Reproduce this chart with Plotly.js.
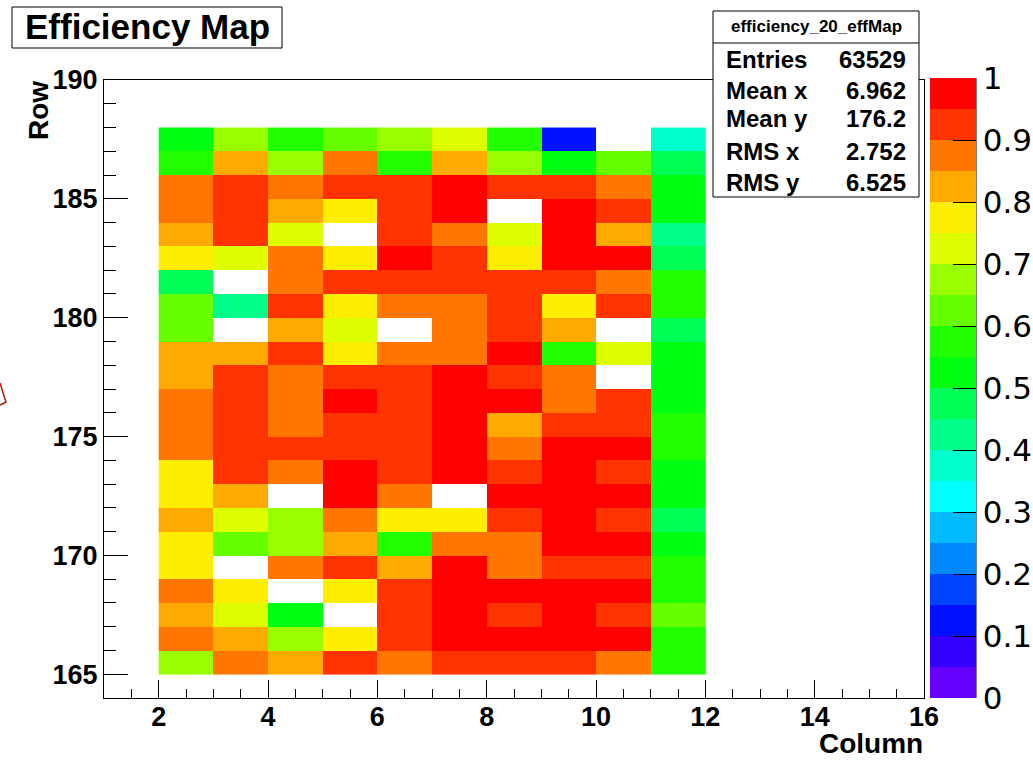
<!DOCTYPE html>
<html>
<head>
<meta charset="utf-8">
<script src="https://cdn.plot.ly/plotly-3.0.1.min.js"></script>
<style>
  html, body { margin: 0; padding: 0; background: #fff; }
  #chart { width: 1033px; height: 762px; }
</style>
</head>
<body>
<div id="chart"></div>
<script>
// ---------------- data ----------------
const chartTitle = "Efficiency Map";
const xTitle = "Column";
const yTitle = "Row";
const columnEdges = [2, 3, 4, 5, 6, 7, 8, 9, 10, 11, 12];
const rowEdges = [165, 166, 167, 168, 169, 170, 171, 172, 173, 174, 175, 176,
                  177, 178, 179, 180, 181, 182, 183, 184, 185, 186, 187, 188];
// efficiency per cell, rows from 165 (bottom) up to 187 (top), columns 2..11; null = empty
const efficiency = [
  [0.675, 0.875, 0.825, 0.925, 0.875, 0.925, 0.925, 0.925, 0.875, 0.575], // 165
  [0.875, 0.825, 0.675, 0.775, 0.925, 0.975, 0.975, 0.975, 0.975, 0.575], // 166
  [0.825, 0.725, 0.525, null,  0.925, 0.975, 0.925, 0.975, 0.925, 0.625], // 167
  [0.875, 0.775, null,  0.775, 0.925, 0.975, 0.975, 0.975, 0.975, 0.575], // 168
  [0.775, null,  0.875, 0.925, 0.825, 0.975, 0.875, 0.925, 0.925, 0.575], // 169
  [0.775, 0.625, 0.675, 0.825, 0.575, 0.875, 0.875, 0.975, 0.975, 0.525], // 170
  [0.825, 0.725, 0.675, 0.875, 0.775, 0.775, 0.925, 0.975, 0.925, 0.475], // 171
  [0.775, 0.825, null,  0.975, 0.875, null,  0.975, 0.975, 0.975, 0.525], // 172
  [0.775, 0.925, 0.875, 0.975, 0.925, 0.975, 0.925, 0.975, 0.925, 0.525], // 173
  [0.875, 0.925, 0.925, 0.925, 0.925, 0.975, 0.875, 0.975, 0.975, 0.575], // 174
  [0.875, 0.925, 0.875, 0.925, 0.925, 0.975, 0.825, 0.925, 0.925, 0.575], // 175
  [0.875, 0.925, 0.875, 0.975, 0.925, 0.975, 0.975, 0.875, 0.925, 0.525], // 176
  [0.825, 0.925, 0.875, 0.925, 0.925, 0.975, 0.925, 0.875, null,  0.525], // 177
  [0.825, 0.825, 0.925, 0.775, 0.875, 0.875, 0.975, 0.575, 0.725, 0.525], // 178
  [0.625, null,  0.825, 0.725, null,  0.875, 0.925, 0.825, null,  0.475], // 179
  [0.625, 0.425, 0.925, 0.775, 0.875, 0.875, 0.925, 0.775, 0.925, 0.575], // 180
  [0.475, null,  0.875, 0.925, 0.925, 0.925, 0.925, 0.925, 0.875, 0.575], // 181
  [0.775, 0.725, 0.875, 0.775, 0.975, 0.925, 0.775, 0.975, 0.975, 0.475], // 182
  [0.825, 0.925, 0.725, null,  0.925, 0.875, 0.725, 0.975, 0.825, 0.425], // 183
  [0.875, 0.925, 0.825, 0.775, 0.925, 0.975, null,  0.975, 0.925, 0.525], // 184
  [0.875, 0.925, 0.875, 0.925, 0.925, 0.975, 0.925, 0.925, 0.875, 0.525], // 185
  [0.575, 0.825, 0.675, 0.875, 0.575, 0.825, 0.675, 0.525, 0.625, 0.475], // 186
  [0.525, 0.675, 0.575, 0.625, 0.675, 0.725, 0.575, 0.125, null,  0.375]  // 187
];
const statsName = "efficiency_20_effMap";
const statLabels = ["Entries", "Mean x", "Mean y", "RMS x", "RMS y"];
const statValues = ["63529", "6.962", "176.2", "2.752", "6.525"];

// ---------------- style ----------------
const palette = ["#6600FF", "#3300FF", "#0011FF", "#0044FF", "#0088FF", "#00BBFF",
                 "#00FFFF", "#00FFCC", "#00FF88", "#00FF55", "#00FF11", "#22FF00",
                 "#66FF00", "#99FF00", "#DDFF00", "#FFEE00", "#FFAA00", "#FF7700",
                 "#FF3300", "#FF0000"];
const colorscale = [];
palette.forEach((c, i) => {
  colorscale.push([i / palette.length, c]);
  colorscale.push([(i + 1) / palette.length, c]);
});

const FONT = "Liberation Sans, Arial, Helvetica, sans-serif";
const WIDEFONT = "DejaVu Sans, Liberation Sans, sans-serif";
const W = 1033, H = 762;
const M = { l: 104, r: 109, t: 80, b: 64, autoexpand: false };
const PW = W - M.l - M.r, PH = H - M.t - M.b;
const px = v => (v - M.l) / PW;
const py = v => (H - M.b - v) / PH;

const trace = {
  type: "heatmap",
  x: columnEdges,
  y: rowEdges,
  z: efficiency,
  zmin: 0, zmax: 1,
  colorscale: colorscale,
  zsmooth: false,
  hoverongaps: false,
  colorbar: {
    x: px(930), xanchor: "left", xpad: 0,
    y: 0, yanchor: "bottom", ypad: 0,
    thickness: 46, thicknessmode: "pixels",
    len: 620, lenmode: "pixels",
    outlinewidth: 0,
    tick0: 0, dtick: 0.1,
    ticks: "inside", ticklen: 23, tickwidth: 1, tickcolor: "#000",
    tickfont: { family: WIDEFONT, size: 31, color: "#000" }
  }
};

const shapes = [
  // colorbar right edge
  { type: "line", xref: "paper", yref: "paper", x0: px(976), x1: px(976), y0: py(78), y1: py(698),
    line: { color: "#000", width: 1 } },
  // title box
  { type: "rect", xref: "paper", yref: "paper", x0: px(12), x1: px(282), y0: py(48), y1: py(7),
    fillcolor: "#fff", line: { color: "#000", width: 1 } },
  // stats box
  { type: "rect", xref: "paper", yref: "paper", x0: px(713), x1: px(919), y0: py(197), y1: py(11),
    fillcolor: "#fff", line: { color: "#000", width: 1 } },
  { type: "line", xref: "paper", yref: "paper", x0: px(713), x1: px(919), y0: py(43), y1: py(43),
    line: { color: "#000", width: 1 } },
  // partial marker at left edge
  { type: "path", xref: "paper", yref: "paper",
    path: `M ${px(0)} ${py(383)} L ${px(6)} ${py(402)} L ${px(0)} ${py(405)}`,
    line: { color: "#a81c08", width: 1.5 } }
];

const statY = [59, 90, 119, 152, 182];
const annotations = [
  { text: chartTitle, xref: "paper", yref: "paper", x: px(147), y: py(27), xanchor: "center", yanchor: "middle",
    showarrow: false, font: { family: FONT, size: 35, color: "#000", weight: 700 } },
  { text: statsName, xref: "paper", yref: "paper", x: px(816), y: py(27), xanchor: "center", yanchor: "middle",
    showarrow: false, font: { family: FONT, size: 17, color: "#000", weight: 700 } },
  { text: xTitle, xref: "paper", yref: "paper", x: px(925), y: py(761), xanchor: "right", yanchor: "bottom",
    showarrow: false, font: { family: FONT, size: 28, color: "#000", weight: 700 } },
  { text: yTitle, xref: "paper", yref: "paper", x: px(38), y: py(111), xanchor: "center", yanchor: "middle",
    textangle: -90, showarrow: false, font: { family: FONT, size: 28, color: "#000", weight: 700 } }
];
statLabels.forEach((lab, i) => {
  annotations.push({ text: lab, xref: "paper", yref: "paper", x: px(724), y: py(statY[i]),
    xanchor: "left", yanchor: "middle", showarrow: false,
    font: { family: FONT, size: 24, color: "#000", weight: 700 } });
  annotations.push({ text: statValues[i], xref: "paper", yref: "paper", x: px(908), y: py(statY[i]),
    xanchor: "right", yanchor: "middle", showarrow: false,
    font: { family: FONT, size: 24, color: "#000", weight: 700 } });
});

const axisCommon = {
  showgrid: false, zeroline: false,
  showline: true, linecolor: "#000", linewidth: 1, mirror: true,
  ticks: "inside", tickcolor: "#000", tickwidth: 1,
  tickfont: { family: FONT, size: 27, color: "#000", weight: 700 }
};

const layout = {
  width: W, height: H,
  margin: M,
  paper_bgcolor: "#fff", plot_bgcolor: "#fff",
  showlegend: false,
  xaxis: Object.assign({}, axisCommon, {
    range: [1, 16], tick0: 0, dtick: 2, ticklen: 18, ticklabelstandoff: -5,
    minor: { dtick: 0.5, tick0: 0, ticks: "inside", ticklen: 9, tickcolor: "#000", tickwidth: 1, showgrid: false }
  }),
  yaxis: Object.assign({}, axisCommon, {
    range: [164, 190], tick0: 0, dtick: 5, ticklen: 24,
    minor: { dtick: 1, tick0: 0, ticks: "inside", ticklen: 12, tickcolor: "#000", tickwidth: 1, showgrid: false }
  }),
  shapes: shapes,
  annotations: annotations
};

Plotly.newPlot("chart", [trace], layout, { displayModeBar: false, staticPlot: true });
</script>
</body>
</html>
